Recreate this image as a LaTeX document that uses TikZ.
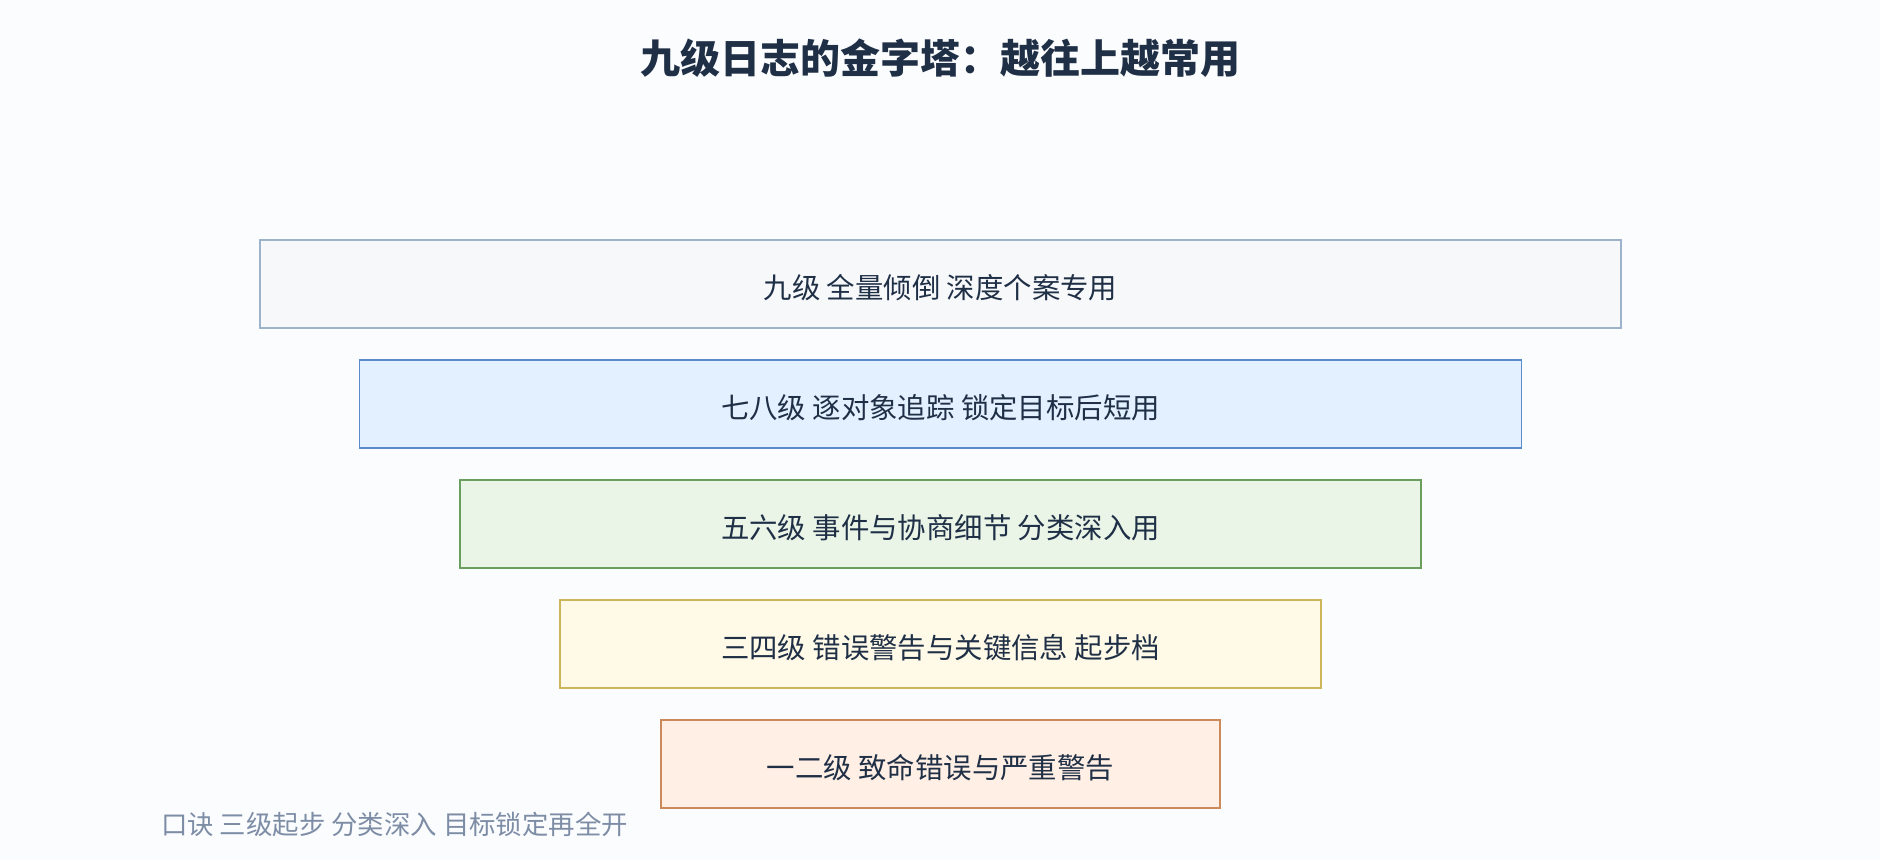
\documentclass[tikz,border=0pt]{standalone}
\usepackage{fontspec}
\setmainfont{Noto Sans CJK SC}
\definecolor{fondo}{HTML}{FBFCFE}
\definecolor{tinta}{HTML}{1F2F46}
\definecolor{gris}{HTML}{7D8DA6}
\definecolor{borde9}{HTML}{9DB3CC} \definecolor{relleno9}{HTML}{F7F8FA}
\definecolor{borde8}{HTML}{5B8ACB} \definecolor{relleno8}{HTML}{E3F0FF}
\definecolor{borde6}{HTML}{6A9E5E} \definecolor{relleno6}{HTML}{EAF5E8}
\definecolor{borde4}{HTML}{CDB65A} \definecolor{relleno4}{HTML}{FFFAE8}
\definecolor{borde2}{HTML}{CC8A5A} \definecolor{relleno2}{HTML}{FFEFE5}

\begin{document}
\begin{tikzpicture}[x=0.75pt, y=-0.75pt,
    capa/.style={
        rectangle, draw, line width=1.2pt,
        minimum height=66pt, inner sep=0pt,
        text height=24pt, text depth=2pt,
        text=tinta, font=\fontsize{21.3}{24}\selectfont
    }]
    \fill [fondo] (0,0) rectangle (1880,860);
    \useasboundingbox (0,0) rectangle (1880,860);

    \node (titulo) [text=tinta, font=\fontsize{30}{34}\bfseries\selectfont] at (940, 58)
        {九级日志的金字塔：越往上越常用};

    \node (nueve) [capa, minimum width=1020.75pt, draw=borde9, fill=relleno9] at (940.5, 284)
        {九级 全量倾倒 深度个案专用};
    \node (ocho) [capa, minimum width=871.5pt, draw=borde8, fill=relleno8] at (940.5, 404)
        {七八级 逐对象追踪 锁定目标后短用};
    \node (seis) [capa, minimum width=720.75pt, draw=borde6, fill=relleno6] at (940.5, 524)
        {五六级 事件与协商细节 分类深入用};
    \node (cuatro) [capa, minimum width=570.75pt, draw=borde4, fill=relleno4] at (940.5, 644)
        {三四级 错误警告与关键信息 起步档};
    \node (dos) [capa, minimum width=419.25pt, draw=borde2, fill=relleno2] at (940.5, 764)
        {一二级 致命错误与严重警告};

    \node (lema) [anchor=west, inner sep=0pt, text=gris, font=\fontsize{19.8}{22}\selectfont] at (161, 824)
        {口诀 三级起步 分类深入 目标锁定再全开};
\end{tikzpicture}
\end{document}
